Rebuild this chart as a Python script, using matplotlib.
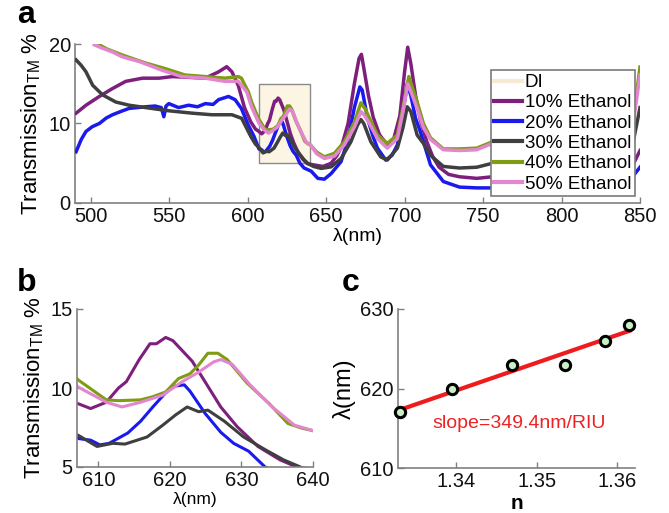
import numpy as np
import matplotlib
matplotlib.use("Agg")
import matplotlib.pyplot as plt
from matplotlib.patches import Rectangle

plt.rcParams['font.family'] = ['Liberation Sans', 'DejaVu Sans']

# ---------------- data ----------------
series_labels = ["DI", "10% Ethanol", "20% Ethanol", "30% Ethanol", "40% Ethanol", "50% Ethanol"]
series_colors = ["#f6ead2", "#7d1f7d", "#1a1aee", "#3f3f3f", "#7f9c14", "#e486cf"]

di_nm = []
di_val = []

eth10_nm = [490.7, 497, 505.5, 513.9, 522.3, 533, 543.5, 552, 563, 573, 581.5, 586.7, 590, 594, 598, 602, 605,
            607.2, 608.9, 611.1, 612.8, 613.9, 615.7, 617.2, 618.1, 619.4, 620.4, 623.1, 624.9, 627.1, 629.4,
            632.3, 635.4, 638, 642, 648, 653.2, 657, 660, 664, 668, 671, 672.5, 674, 677, 680, 684, 689, 693,
            697, 700, 702, 704, 707, 710, 714, 718, 722, 728, 735, 746, 756, 800, 840, 846, 850]
eth10_val = [11.3, 12.3, 13.4, 14.4, 15.3, 15.7, 15.7, 15.9, 15.8, 15.7, 16.5, 17.15, 16.5, 14.8, 12.0, 10.2, 9.3,
             9.0, 8.7, 9.1, 10.0, 10.4, 11.8, 12.8, 12.8, 13.2, 13.0, 11.7, 10.4, 8.8, 7.55,
             6.3, 5.45, 4.95, 4.8, 4.6, 5.0, 6.0, 7.2, 10.0, 15.0, 18.2, 18.7, 17.0, 13.5, 10.8, 8.6, 7.3, 8.0,
             11.0, 16.5, 19.6, 17.5, 13.5, 10.5, 7.8, 5.8, 4.5, 3.6, 3.3, 3.1, 3.3, 3.8, 4.2, 5.0, 6.6]

eth20_nm = [490.7, 494, 497, 501, 505.5, 510, 513.9, 519, 524.5, 535, 541, 545, 546.6, 548, 549.8, 556, 562.4,
            568, 573, 578, 581.5, 587.8, 592, 596, 600.4, 604, 607.2, 608.9, 610.2, 611.5, 614.1, 615.9, 617.6,
            619.4, 620.4, 622, 622.8, 624.9, 627.1, 628.9, 631, 633.3, 636, 640.5, 644.7, 648.9, 653.2, 659.5,
            664, 668, 671.5, 673, 676.4, 680, 682.7, 688, 692, 695.4, 699, 701.7, 704, 707, 710, 716.5, 724.7,
            735, 746, 756, 800, 840, 846, 850]
eth20_val = [6.45, 8.0, 9.0, 9.6, 10.0, 10.7, 11.1, 11.5, 11.9, 12.1, 12.2, 12.0, 10.85, 12.2, 12.5, 12.0, 12.3,
             12.1, 12.5, 12.4, 13.0, 13.4, 13.0, 11.9, 9.8, 8.4, 6.8, 6.7, 6.4, 6.5, 7.15, 7.9, 8.8,
             9.7, 10.1, 10.2, 9.8, 8.4, 7.2, 6.5, 6.0, 5.0, 4.4, 4.0, 3.1, 3.0, 3.7, 5.2,
             8.0, 12.0, 14.6, 14.2, 10.65, 8.3, 6.9, 5.4, 6.0, 7.3, 11.5, 15.0, 13.5, 10.65, 9.0, 4.8, 2.7,
             2.0, 1.9, 1.9, 2.3, 2.8, 3.5, 4.5]

eth30_nm = [490.7, 494, 497, 501.3, 507.6, 516, 524.5, 535, 549.8, 564.6, 577.2, 590, 596.2, 600.4, 602.5, 605,
            607.2, 609.8, 612, 613.7, 616.8, 619, 620.8, 622.4, 624, 625.3, 627.6, 630.3, 633.3, 635.9, 638.5,
            642, 646.8, 653.2, 659.5, 665.8, 670, 672.2, 674, 678.5, 684.8, 689, 695.4, 699, 701.7, 704, 708,
            712, 716.5, 724.7, 735, 746, 756, 800, 840, 846, 850]
eth30_val = [18.0, 17.3, 16.5, 14.8, 13.6, 12.7, 12.3, 12.0, 11.6, 11.3, 11.1, 11.1, 10.65, 9.0, 8.2, 7.4,
             7.0, 6.3, 6.5, 6.45, 6.9, 7.65, 8.3, 8.8, 8.5, 8.6, 7.9, 6.9, 6.1, 5.45, 4.95,
             4.6, 4.35, 4.55, 5.6, 7.7, 9.8, 10.5, 10.0, 7.7, 5.8, 5.4, 6.9, 9.5, 12.1, 11.5, 8.55,
             7.5, 6.0, 4.6, 4.4, 4.5, 5.0, 5.5, 6.5, 8.0, 12.0]

eth40_nm = [505.5, 510, 520.3, 535, 547.5, 560, 573, 585.7, 594, 596, 600.4, 602.5, 605, 607.2, 611.1, 612.8,
            615.9, 617.6, 619.4, 621.2, 622.8, 624, 625.3, 626.7, 628, 630.8, 633.9, 636.5, 638.5, 640, 644,
            648.9, 655.3, 661.6, 668.1, 672.2, 675, 677.6, 682.7, 689, 695.4, 699, 702.7, 705, 708, 712, 716.5,
            724.7, 735, 746, 756, 800, 840, 846, 850]
eth40_val = [19.9, 19.4, 18.6, 17.6, 16.9, 16.1, 15.9, 15.7, 15.9, 15.7, 14.0, 12.7, 11.5, 10.5, 9.25, 9.2,
             9.25, 9.45, 9.75, 10.6, 10.9, 11.45, 12.2, 12.2, 11.8, 10.3, 9.0, 7.75, 7.45, 7.3, 6.4,
             5.8, 6.25, 7.7, 10.2, 12.6, 11.8, 10.65, 8.55, 7.5, 8.55, 12.0, 15.9, 14.5, 12.7, 10.0, 8.2,
             6.8, 6.8, 6.9, 7.7, 8.0, 8.5, 11.0, 17.1]

eth50_nm = [502.3, 507, 513.9, 520, 530.9, 545.5, 558, 573, 585.7, 594, 596, 599.4, 602.5, 605, 607.2, 611.1,
            613.3, 615.9, 619, 621.7, 624, 626.1, 627.1, 628.7, 631.2, 634.3, 637.4, 640, 644, 648.9, 655.3,
            661.6, 668.1, 672.2, 674.5, 677.6, 682.7, 689, 695.4, 699, 702, 705, 708, 712, 716.5, 724.7, 735,
            746, 756, 800, 840, 846, 850]
eth50_val = [19.9, 19.5, 19.0, 18.4, 17.8, 16.7, 15.9, 15.7, 15.3, 15.3, 14.8, 14.0, 12.1, 11.0, 10.05, 9.1,
             8.8, 9.1, 9.55, 10.4, 11.0, 11.65, 11.8, 11.5, 10.2, 8.8, 7.65, 7.3, 6.2, 5.6, 5.9,
             7.3, 9.6, 11.5, 11.0, 10.0, 8.1, 6.9, 8.1, 11.5, 15.0, 13.5, 11.9, 9.5, 8.0, 6.7, 6.6,
             6.7, 7.5, 7.8, 8.3, 10.5, 16.1]

# panel c
n_index = [1.333, 1.3395, 1.347, 1.3535, 1.3585, 1.3615]
peak_nm = [617, 620, 623, 623, 626, 628]
slope_text = "slope=349.4nm/RIU"

a_xticks = [500, 550, 600, 650, 700, 750, 800, 850]
a_yticks = [0, 10, 20]
b_xticks = [610, 620, 630, 640]
b_yticks = [5, 10, 15]
c_xticks = [1.34, 1.35, 1.36]
c_yticks = [610, 620, 630]

series_nm = [di_nm, eth10_nm, eth20_nm, eth30_nm, eth40_nm, eth50_nm]
series_val = [di_val, eth10_val, eth20_val, eth30_val, eth40_val, eth50_val]

# ---------------- figure ----------------
W, H = 669, 513
fig = plt.figure(figsize=(W / 100, H / 100), dpi=100)

def box(l, t, r, b):
    return [l / W, 1 - b / H, (r - l) / W, (b - t) / H]

ax_a = fig.add_axes(box(75, 44, 640, 203))
ax_b = fig.add_axes(box(77, 309, 313, 467))
ax_c = fig.add_axes(box(398, 309, 635, 468))

spine_col = "#808080"

def style(ax, fs=14.5):
    for s in ["top", "right"]:
        ax.spines[s].set_visible(False)
    for s in ["left", "bottom"]:
        ax.spines[s].set_color(spine_col)
        ax.spines[s].set_linewidth(1.2)
    ax.tick_params(direction="in", length=4, width=1.0, color=spine_col,
                   labelsize=fs, labelcolor="#111111", pad=3)

# panel a
ax_a.add_patch(Rectangle((607, 5), 33, 10, facecolor="#fcf5e4", edgecolor="#8a8a8a",
                         linewidth=1.0, zorder=1))
lines = []
for x, y, c, lab in zip(series_nm, series_val, series_colors, series_labels):
    ln, = ax_a.plot(x, y, color=c, lw=2.5, label=lab, zorder=3)
    lines.append(ln)
ax_a.set_xlim(490, 850)
ax_a.set_ylim(0, 20)
ax_a.set_xticks(a_xticks)
ax_a.set_yticks(a_yticks)
style(ax_a)
ax_a.set_xlabel("λ(nm)", fontsize=14, labelpad=1)
ax_a.set_ylabel("Transmission$_{\\mathregular{TM}}$ %", fontsize=16, labelpad=4)
leg = ax_a.legend(handles=lines, loc="upper right", bbox_to_anchor=(0.991, 0.835),
                  fontsize=13.5, frameon=True, fancybox=False, framealpha=1.0,
                  borderpad=0.2, labelspacing=0.17, handlelength=1.5, handletextpad=0.12,
                  borderaxespad=0.0)
leg.get_frame().set_edgecolor("#7a7a7a")
leg.get_frame().set_linewidth(1.2)
for h in leg.get_lines():
    h.set_linewidth(3.0)
leg.set_zorder(5)

# panel b
for x, y, c in zip(series_nm, series_val, series_colors):
    ax_b.plot(x, y, color=c, lw=2.2)
ax_b.set_xlim(607, 640)
ax_b.set_ylim(5, 15)
ax_b.set_xticks(b_xticks)
ax_b.set_yticks(b_yticks)
style(ax_b)
ax_b.set_xlabel("λ(nm)", fontsize=12.5, labelpad=1)
ax_b.set_ylabel("Transmission$_{\\mathregular{TM}}$ %", fontsize=16, labelpad=3)

# panel c
coef = np.polyfit(n_index, peak_nm, 1)
nfit = np.array([n_index[0], n_index[-1]])
ax_c.plot(nfit, np.polyval(coef, nfit), color="#ee1c1c", lw=3.0, zorder=2)
ax_c.scatter(n_index, peak_nm, s=55, facecolor="#c9efc4", edgecolor="black",
             linewidth=2.2, zorder=3, clip_on=False)
ax_c.text(1.3478, 615.6, slope_text, color="#ee2222", fontsize=14, ha="center", va="center")
ax_c.set_xlim(1.3328, 1.3622)
ax_c.set_ylim(610, 630)
ax_c.set_xticks(c_xticks)
ax_c.set_xticklabels([f"{v:.2f}" for v in c_xticks])
ax_c.set_yticks(c_yticks)
style(ax_c)
ax_c.set_xlabel("n", fontsize=15, fontweight="bold", labelpad=2)
ax_c.set_ylabel("λ(nm)", fontsize=17, labelpad=3)

# panel letters
fig.text(17 / W, 1 - 15 / H, "a", fontsize=23, fontweight="bold", va="center", ha="left")
fig.text(17 / W, 1 - 283 / H, "b", fontsize=23, fontweight="bold", va="center", ha="left")
fig.text(342 / W, 1 - 283 / H, "c", fontsize=23, fontweight="bold", va="center", ha="left")

fig.savefig("out.png", dpi=100)
